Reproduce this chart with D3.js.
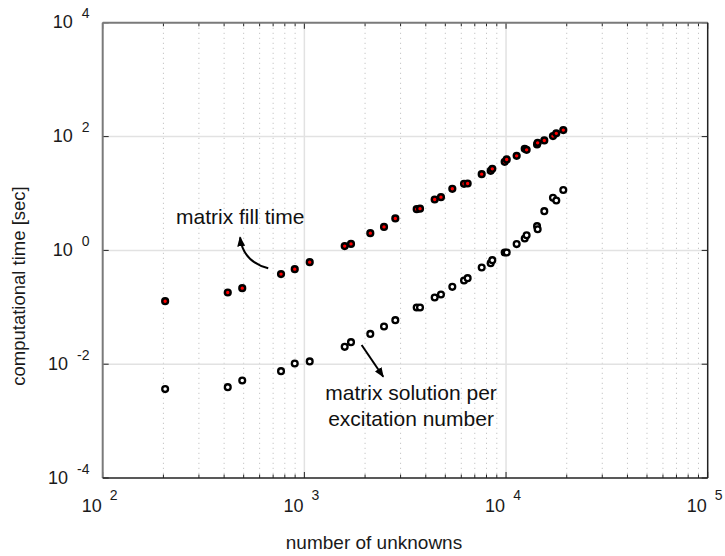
<!DOCTYPE html>
<html>
<head>
<meta charset="utf-8">
<script src="https://cdn.jsdelivr.net/npm/d3@7"></script>
<style>
  html, body { margin: 0; padding: 0; background: #fff; }
  svg { display: block; font-family: "Liberation Sans", Arial, Helvetica, sans-serif; }
</style>
</head>
<body>
<svg id="chart" width="725" height="556"></svg>
<script>
// Problem size (number of unknowns) for each run
const nUnknowns = [204, 417, 492, 766, 896, 1063, 1585, 1703, 2123, 2483, 2825,
  3606, 3745, 4428, 4757, 5416, 6190, 6452, 7575, 8392, 8550, 9846, 10077,
  11290, 12380, 12650, 14250, 14350, 15480, 17090, 17750, 19230];

// Matrix fill time [sec]
const fillTime = [0.128, 0.182, 0.217, 0.383, 0.468, 0.622, 1.19, 1.30, 2.01,
  2.59, 3.64, 5.31, 5.42, 7.85, 8.62, 12.1, 14.8, 15.0, 21.9, 25.0, 27.1, 36.0,
  39.7, 45.9, 60.9, 58.5, 72.8, 77.7, 85.5, 102, 114, 130];

// Matrix solution time per excitation [sec]
const solveTime = [0.00365, 0.00395, 0.00517, 0.00755, 0.0103, 0.0112, 0.0202,
  0.0244, 0.0341, 0.0461, 0.0594, 0.0994, 0.0994, 0.149, 0.168, 0.229, 0.296,
  0.325, 0.502, 0.597, 0.674, 0.920, 0.920, 1.29, 1.62, 1.85, 2.67, 2.36, 4.90,
  8.39, 7.55, 11.5];

// Labelled decades on each axis
const xTickExps = [2, 3, 4, 5];
const yTickExps = [-4, -2, 0, 2, 4];

const xLabel = "number of unknowns";
const yLabel = "computational time [sec]";
const fillLabel = "matrix fill time";
const solveLabel = ["matrix solution per", "excitation number"];

const svg = d3.select("#chart");
const plot = { left: 102.7, right: 707.7, top: 22.8, bottom: 478 };

const x = d3.scaleLog().domain([1e2, 1e5]).range([plot.left, plot.right]);
const y = d3.scaleLog().domain([1e-4, 1e4]).range([plot.bottom, plot.top]);

// minor decade positions 2..9 x 10^k along x
const xMinor = [];
for (let e = 2; e < 5; e++) for (let m = 2; m <= 9; m++) xMinor.push(m * Math.pow(10, e));
const xMajor = xTickExps.map(e => Math.pow(10, e));
const yMajor = yTickExps.map(e => Math.pow(10, e));

// grid
const grid = svg.append("g");
grid.selectAll("line.minor").data(xMinor).join("line")
  .attr("x1", d => x(d)).attr("x2", d => x(d))
  .attr("y1", plot.top).attr("y2", plot.bottom)
  .attr("stroke", "#b8b8b8").attr("stroke-width", 1)
  .attr("stroke-dasharray", "1,4");
grid.selectAll("line.vmajor").data(xMajor.slice(1, -1)).join("line")
  .attr("x1", d => x(d)).attr("x2", d => x(d))
  .attr("y1", plot.top).attr("y2", plot.bottom)
  .attr("stroke", "#e2e2e2").attr("stroke-width", 1.5);
grid.selectAll("line.hmajor").data(yMajor.slice(1, -1)).join("line")
  .attr("x1", plot.left).attr("x2", plot.right)
  .attr("y1", d => y(d)).attr("y2", d => y(d))
  .attr("stroke", "#e2e2e2").attr("stroke-width", 1.5);

// ticks (inward, on all four sides)
const ticks = svg.append("g").attr("stroke", "#222").attr("stroke-width", 1);
[[plot.bottom, -1], [plot.top, 1]].forEach(([y0, dir]) => {
  ticks.append("g").selectAll("line").data(xMinor).join("line")
    .attr("x1", d => x(d)).attr("x2", d => x(d))
    .attr("y1", y0).attr("y2", y0 + dir * 3.5);
  ticks.append("g").selectAll("line").data(xMajor).join("line")
    .attr("x1", d => x(d)).attr("x2", d => x(d))
    .attr("y1", y0).attr("y2", y0 + dir * 6);
});
[[plot.left, 1], [plot.right, -1]].forEach(([x0, dir]) => {
  ticks.append("g").selectAll("line").data(yMajor).join("line")
    .attr("y1", d => y(d)).attr("y2", d => y(d))
    .attr("x1", x0).attr("x2", x0 + dir * 6);
});

// box
svg.append("line").attr("x1", plot.left).attr("x2", plot.right)
  .attr("y1", plot.top).attr("y2", plot.top).attr("stroke", "#7a7a7a").attr("stroke-width", 2);
svg.append("line").attr("x1", plot.left).attr("x2", plot.left)
  .attr("y1", plot.top).attr("y2", plot.bottom).attr("stroke", "#7a7a7a").attr("stroke-width", 2);
svg.append("line").attr("x1", plot.left).attr("x2", plot.right)
  .attr("y1", plot.bottom).attr("y2", plot.bottom).attr("stroke", "#222").attr("stroke-width", 1.5);
svg.append("line").attr("x1", plot.right).attr("x2", plot.right)
  .attr("y1", plot.top).attr("y2", plot.bottom).attr("stroke", "#222").attr("stroke-width", 1.5);

// tick labels: 10 with superscript exponent
const xl = svg.append("g").selectAll("text").data(xTickExps).join("text")
  .attr("x", d => x(Math.pow(10, d)) - 3).attr("y", 512)
  .attr("text-anchor", "middle").attr("fill", "#1a1a1a");
xl.append("tspan").attr("font-size", 18).text("10");
xl.append("tspan").attr("font-size", 14).attr("dx", 8).attr("dy", -12).text(d => d);

const yl = svg.append("g").selectAll("text").data(yTickExps).join("text")
  .attr("x", 89.5).attr("y", d => y(Math.pow(10, d)) + 5.5)
  .attr("text-anchor", "end").attr("fill", "#1a1a1a");
yl.append("tspan").attr("font-size", 18).text("10");
yl.append("tspan").attr("font-size", 14).attr("dx", 9).attr("dy", -10).text(d => d);

// axis titles
svg.append("text").attr("x", 374).attr("y", 549).attr("text-anchor", "middle")
  .attr("font-size", 19).attr("fill", "#1a1a1a").text(xLabel);
svg.append("text").attr("transform", "translate(25,286) rotate(-90)")
  .attr("text-anchor", "middle").attr("font-size", 18.5).attr("fill", "#1a1a1a").text(yLabel);

// annotations with arrows
const defs = svg.append("defs");
defs.append("marker").attr("id", "head").attr("viewBox", "0 0 10 8")
  .attr("refX", 9).attr("refY", 4).attr("markerWidth", 10).attr("markerHeight", 8)
  .attr("markerUnits", "userSpaceOnUse").attr("orient", "auto")
  .append("path").attr("d", "M0,0 L10,4 L0,8 Z").attr("fill", "#000");

const fillArrow = { tail: [662, 0.484], ctrl: [497, 0.625], tip: [480, 1.70] };
const p = d3.path();
p.moveTo(x(fillArrow.tail[0]), y(fillArrow.tail[1]));
p.quadraticCurveTo(x(fillArrow.ctrl[0]), y(fillArrow.ctrl[1]), x(fillArrow.tip[0]), y(fillArrow.tip[1]));
svg.append("path").attr("d", p.toString()).attr("fill", "none")
  .attr("stroke", "#000").attr("stroke-width", 2).attr("marker-end", "url(#head)");

const solveArrow = { tail: [1923, 0.02175], tip: [2461, 0.00603] };
svg.append("line")
  .attr("x1", x(solveArrow.tail[0])).attr("y1", y(solveArrow.tail[1]))
  .attr("x2", x(solveArrow.tip[0])).attr("y2", y(solveArrow.tip[1]))
  .attr("stroke", "#000").attr("stroke-width", 2).attr("marker-end", "url(#head)");

svg.append("text").attr("x", x(231)).attr("y", y(2.91))
  .attr("font-size", 21).attr("fill", "#111").text(fillLabel);
svg.append("text").attr("text-anchor", "middle").attr("font-size", 21).attr("fill", "#111")
  .selectAll("tspan").data(solveLabel).join("tspan")
  .attr("x", x(3380)).attr("y", (d, i) => y(0.00235) + i * 26).text(d => d);

// data markers
const pts = nUnknowns.map((n, i) => ({ n, fill: fillTime[i], solve: solveTime[i] }));
svg.append("g").selectAll("circle").data(pts).join("circle")
  .attr("cx", d => x(d.n)).attr("cy", d => y(d.solve)).attr("r", 2.9)
  .attr("fill", "#fff").attr("stroke", "#000").attr("stroke-width", 2.3);
svg.append("g").selectAll("circle").data(pts).join("circle")
  .attr("cx", d => x(d.n)).attr("cy", d => y(d.fill)).attr("r", 2.9)
  .attr("fill", "#ff0000").attr("stroke", "#000").attr("stroke-width", 2.4);
</script>
</body>
</html>
